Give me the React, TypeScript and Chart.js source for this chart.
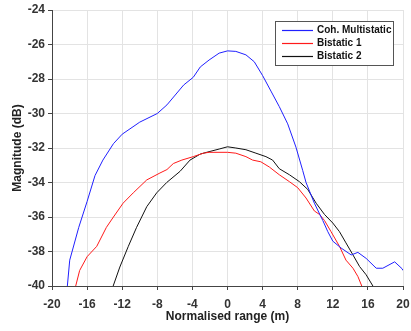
import React, { useEffect, useRef } from "react";
import { Chart, registerables } from "chart.js";

Chart.register(...registerables);

const seriesLabels = ["Coh. Multistatic", "Bistatic 1", "Bistatic 2"];
const seriesColors = ["#2020ff", "#ff1a1a", "#111111"];

const multiX = [-18.25, -17.98, -16.95, -16.0, -15.1, -14.2, -13.0, -12.0, -10.0, -8.0, -6.9, -5.0, -3.9, -3.1, -2.1, -0.95, 0, 0.95, 2.1, 3.05, 4.0, 4.95, 5.9, 6.86, 7.8, 8.57, 8.95, 9.9, 10.86, 11.43, 12.0, 12.95, 14.1, 14.86, 15.8, 16.95, 17.7, 19.05, 19.9, 20];
const multiY = [-40, -38.5, -36.6, -35.1, -33.6, -32.7, -31.75, -31.2, -30.5, -30.0, -29.5, -28.35, -27.9, -27.3, -26.9, -26.5, -26.37, -26.4, -26.6, -27.0, -27.8, -28.7, -29.6, -30.6, -31.95, -33.3, -34.0, -35.2, -36.2, -36.85, -37.4, -37.8, -38.2, -38.05, -38.4, -38.97, -38.97, -38.6, -39.0, -39.1];

const bi1X = [-17.3, -16.85, -16.0, -14.9, -13.8, -13.0, -11.9, -10.74, -9.2, -7.7, -6.9, -6.17, -5.2, -3.9, -2.74, -2.1, 0, 0.95, 2.1, 2.86, 3.8, 4.76, 5.9, 7.05, 8.0, 8.95, 9.9, 10.48, 11.05, 11.8, 12.76, 13.5, 14.3, 14.86, 15.3];
const bi1Y = [-40, -39.1, -38.3, -37.7, -36.6, -36.0, -35.2, -34.6, -33.85, -33.45, -33.25, -32.9, -32.7, -32.5, -32.3, -32.25, -32.25, -32.3, -32.5, -32.7, -32.8, -33.1, -33.55, -33.95, -34.3, -34.9, -35.65, -35.85, -36.2, -36.85, -37.7, -38.5, -38.97, -39.45, -40];

const bi2X = [-13.03, -12.27, -11.3, -10.36, -9.2, -8.07, -6.93, -5.4, -4.27, -3.1, -2.0, -0.95, 0, 0.95, 2.1, 3.24, 4.38, 5.14, 5.9, 7.05, 8.19, 9.14, 10.1, 11.05, 12.0, 12.76, 13.5, 14.3, 15.05, 15.8, 16.57];
const bi2Y = [-40, -38.9, -37.7, -36.6, -35.4, -34.6, -34.0, -33.35, -32.7, -32.35, -32.2, -32.06, -31.93, -32.0, -32.1, -32.3, -32.5, -32.7, -33.2, -33.55, -33.95, -34.4, -35.2, -35.85, -36.35, -36.85, -37.5, -38.2, -38.87, -39.35, -40];

const xRange = [-20, 20];
const xStep = 4;
const yRange = [-40, -24];
const yStep = 2;
const xTitle = "Normalised range (m)";
const yTitle = "Magnitude (dB)";

const FONT = "'Liberation Sans', Arial, sans-serif";

const pts = (xs: number[], ys: number[]) => xs.map((x, i) => ({ x, y: ys[i] }));

const boxLegend = {
  id: "boxLegend",
  afterDraw(chart: any) {
    const { ctx, chartArea } = chart;
    const w = 118;
    const h = 44;
    const left = Math.round(chartArea.right - 10 - w);
    const top = Math.round(chartArea.top + 11);
    ctx.save();
    ctx.fillStyle = "#ffffff";
    ctx.fillRect(left, top, w, h);
    ctx.strokeStyle = "#555555";
    ctx.lineWidth = 1;
    ctx.strokeRect(left + 0.5, top + 0.5, w, h);
    ctx.font = `bold 10px ${FONT}`;
    ctx.textBaseline = "middle";
    chart.data.datasets.forEach((ds: any, i: number) => {
      const yy = Math.round(top + 8.5 + i * 13.3);
      ctx.strokeStyle = seriesColors[i];
      ctx.lineWidth = 1.2;
      ctx.beginPath();
      ctx.moveTo(left + 7, yy + 0.5);
      ctx.lineTo(left + 38, yy + 0.5);
      ctx.stroke();
      ctx.fillStyle = "#111111";
      ctx.fillText(ds.label, left + 42, yy + 0.5);
    });
    ctx.restore();
  },
};

export default function App() {
  const ref = useRef<HTMLCanvasElement | null>(null);
  useEffect(() => {
    document.body.style.margin = "0";
    const canvas = ref.current;
    if (!canvas) return;
    const data = [pts(multiX, multiY), pts(bi1X, bi1Y), pts(bi2X, bi2Y)];
    const chart = new Chart(canvas, {
      type: "line",
      data: {
        datasets: data.map((d, i) => ({
          label: seriesLabels[i],
          data: d,
          borderColor: seriesColors[i],
          backgroundColor: seriesColors[i],
          borderWidth: 1,
          pointRadius: 0,
          tension: 0,
          fill: false,
        })),
      },
      options: {
        animation: false,
        responsive: true,
        maintainAspectRatio: false,
        layout: { padding: { top: 10, right: 8, left: 0, bottom: 0 } },
        plugins: { legend: { display: false }, tooltip: { enabled: false } },
        scales: {
          x: {
            type: "linear",
            min: xRange[0],
            max: xRange[1],
            afterFit: (s: any) => {
              s.height = 45;
              s.paddingLeft = 0;
              s.paddingRight = 0;
            },
            ticks: {
              stepSize: xStep,
              color: "#333333",
              font: { family: FONT, size: 12, weight: "bold" },
              padding: 7,
              maxRotation: 0,
            },
            grid: { color: "#e3e3e3", tickColor: "#444444", tickLength: 4 },
            border: { color: "#444444", width: 1 },
            title: {
              display: true,
              text: xTitle,
              color: "#222222",
              font: { family: FONT, size: 12, weight: "bold" },
              padding: { top: 0, bottom: 7 },
            },
          },
          y: {
            type: "linear",
            min: yRange[0],
            max: yRange[1],
            afterFit: (s: any) => {
              s.width = 52;
              s.paddingTop = 0;
              s.paddingBottom = 0;
            },
            ticks: {
              stepSize: yStep,
              color: "#333333",
              font: { family: FONT, size: 12, weight: "bold" },
              padding: 3,
            },
            grid: { color: "#e3e3e3", tickColor: "#444444", tickLength: 4 },
            border: { color: "#444444", width: 1 },
            title: {
              display: true,
              text: yTitle,
              color: "#222222",
              font: { family: FONT, size: 12, weight: "bold" },
              padding: { top: 10, bottom: 0 },
            },
          },
        },
      },
      plugins: [boxLegend],
    } as any);
    return () => chart.destroy();
  }, []);
  return (
    <div style={{ width: 411, height: 331, position: "relative", background: "#fff" }}>
      <canvas ref={ref} />
    </div>
  );
}
